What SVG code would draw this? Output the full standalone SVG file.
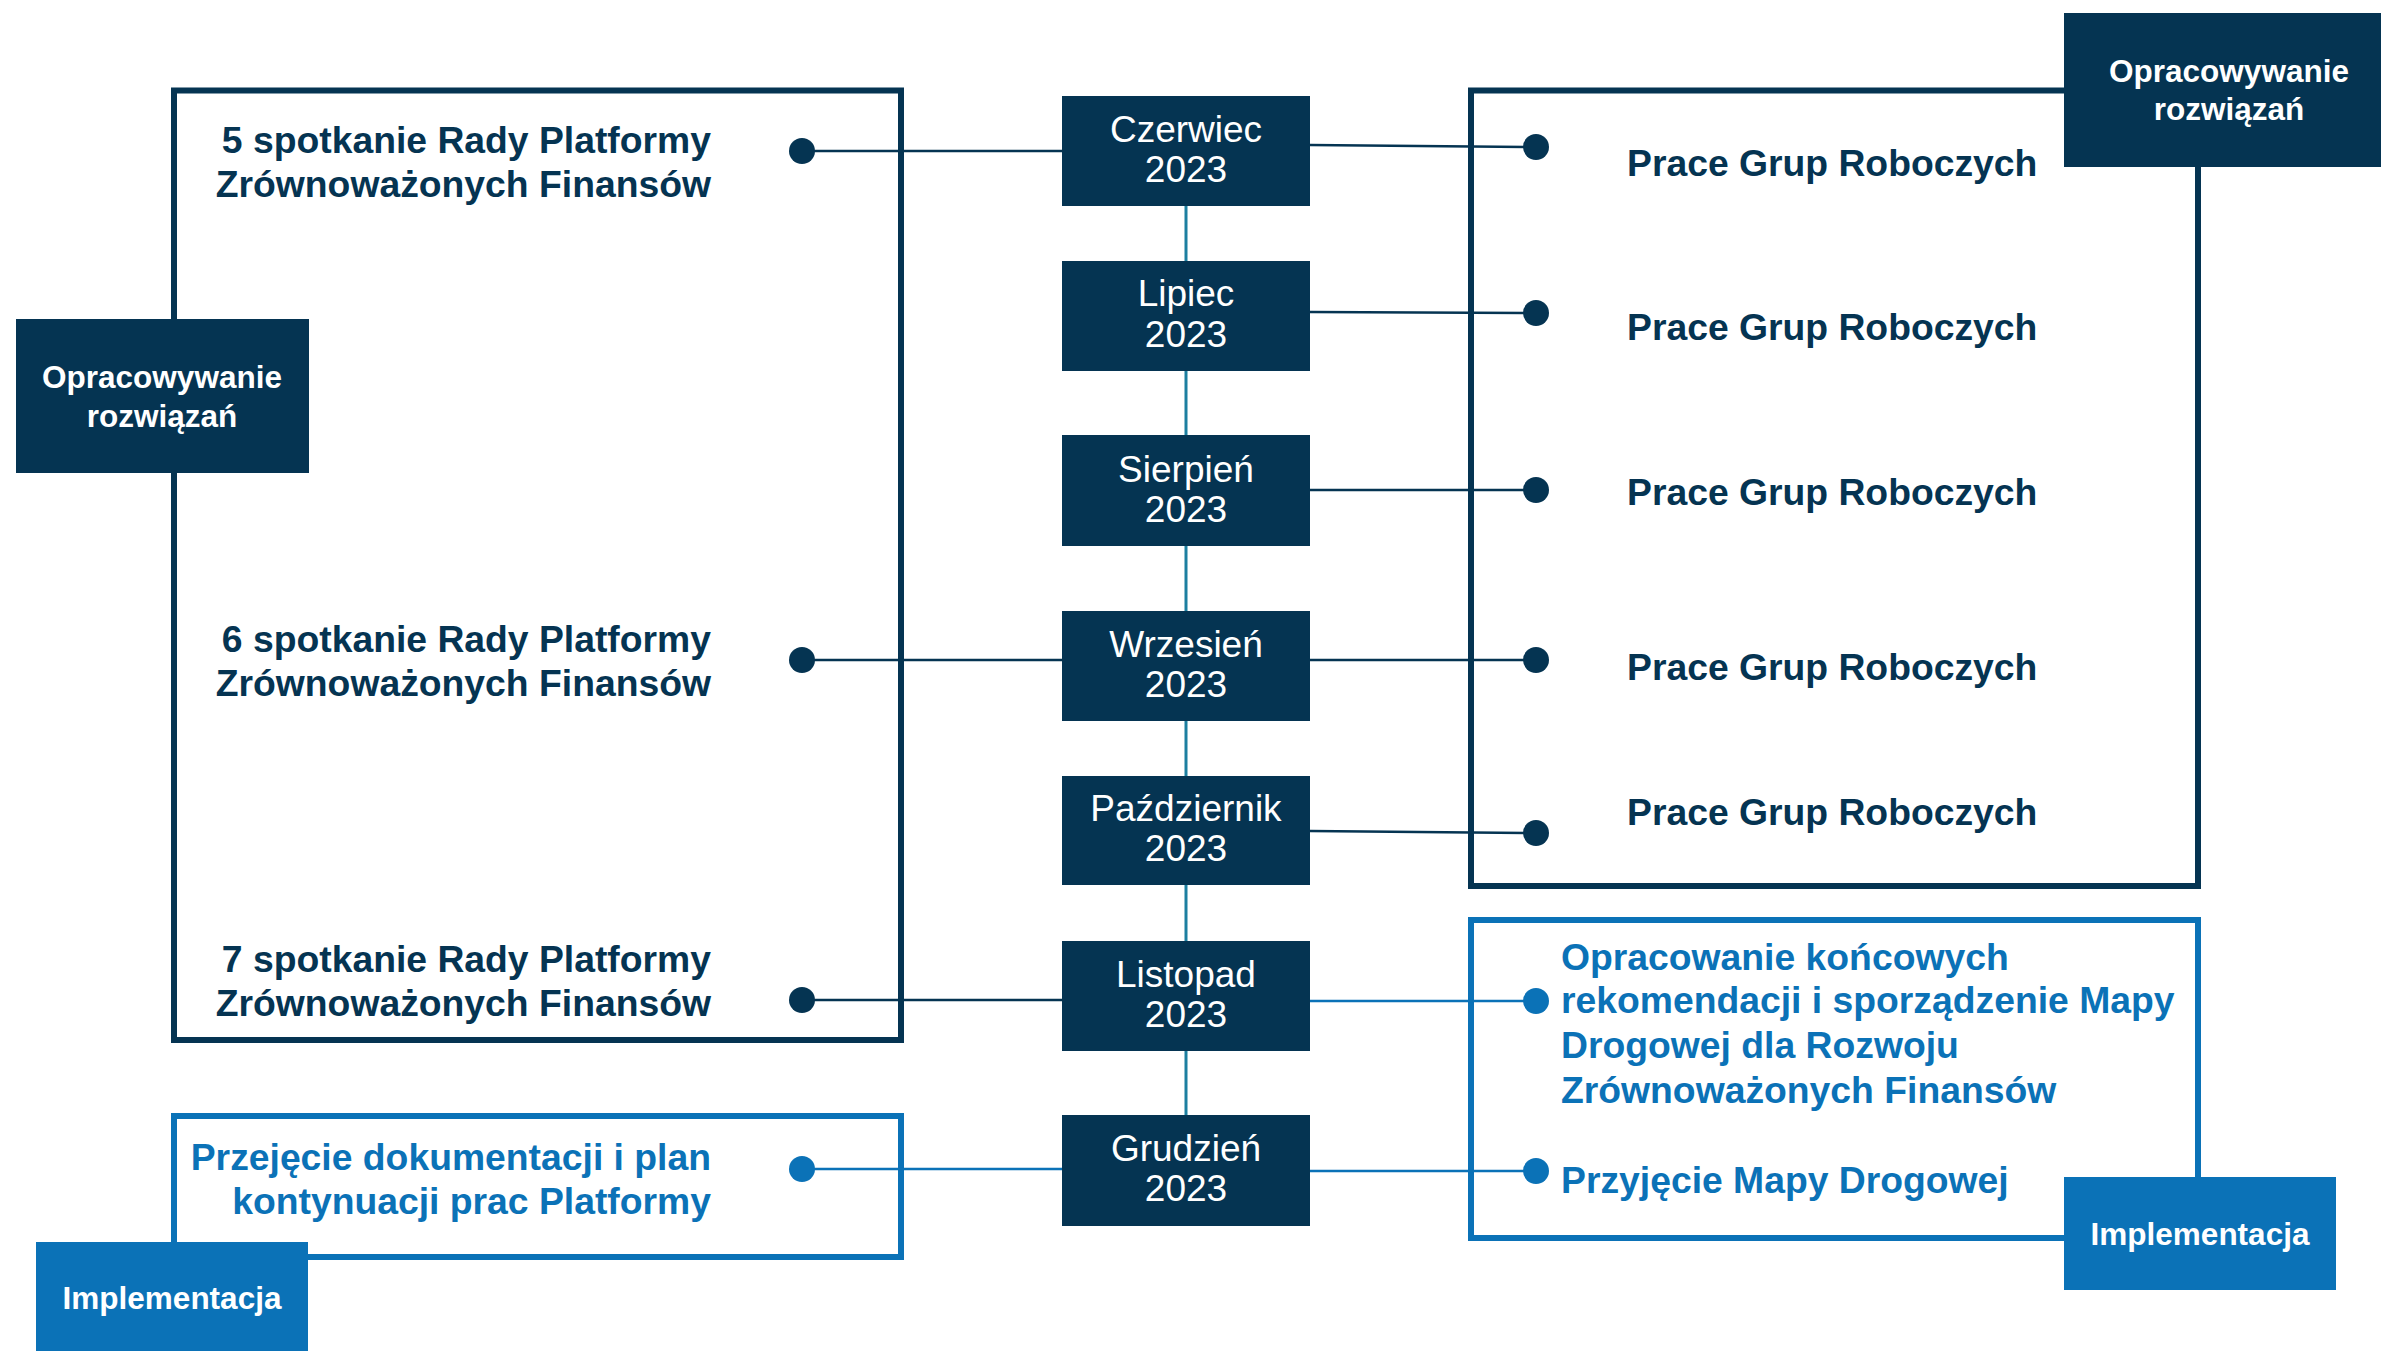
<svg xmlns="http://www.w3.org/2000/svg" width="2381" height="1351" viewBox="0 0 2381 1351">
<style>
  .frame-n { fill: none; stroke: #053452; stroke-width: 6; }
  .frame-b { fill: none; stroke: #0B72B7; stroke-width: 6; }
  .month { fill: #053452; }
  .label-n { fill: #053452; }
  .label-b { fill: #0B72B7; }
  .mtxt { font-family: "Liberation Sans", Arial, sans-serif; font-size: 37px; fill: #ffffff; text-anchor: middle; }
  .ltxt { font-family: "Liberation Sans", Arial, sans-serif; font-size: 31.5px; font-weight: bold; fill: #ffffff; text-anchor: middle; }
  .tn { font-family: "Liberation Sans", Arial, sans-serif; font-size: 37.3px; font-weight: bold; fill: #053452; }
  .tb { font-family: "Liberation Sans", Arial, sans-serif; font-size: 37.3px; font-weight: bold; fill: #0B72B7; }
  .r { text-anchor: end; }
  .cn { stroke: #053452; stroke-width: 2.5; fill: none; }
  .cb { stroke: #0B72B7; stroke-width: 2.5; fill: none; }
  .spine { stroke: #1C7FA0; stroke-width: 3; fill: none; }
  .dn { fill: #053452; }
  .db { fill: #0B72B7; }
</style>
<rect width="2381" height="1351" fill="#ffffff"/>

<g id="frames">
  <rect id="left-frame" class="frame-n" x="174" y="90.5" width="727" height="949.5"/>
  <rect id="right-frame" class="frame-n" x="1471" y="90.5" width="727" height="795.5"/>
  <rect id="left-impl-frame" class="frame-b" x="174" y="1116" width="727" height="141"/>
  <rect id="right-impl-frame" class="frame-b" x="1471" y="920" width="727" height="318"/>
</g>

<g id="connectors">
  <line class="spine" x1="1186" y1="150" x2="1186" y2="1170"/>
  <line class="cn" x1="802" y1="151" x2="1062" y2="151"/>
  <line class="cn" x1="802" y1="660" x2="1062" y2="660"/>
  <line class="cn" x1="802" y1="1000" x2="1062" y2="1000"/>
  <line class="cb" x1="802" y1="1169" x2="1062" y2="1169"/>
  <line class="cn" x1="1310" y1="145" x2="1536" y2="147"/>
  <line class="cn" x1="1310" y1="312" x2="1536" y2="313"/>
  <line class="cn" x1="1310" y1="490" x2="1536" y2="490"/>
  <line class="cn" x1="1310" y1="660" x2="1536" y2="660"/>
  <line class="cn" x1="1310" y1="831" x2="1536" y2="833"/>
  <line class="cb" x1="1310" y1="1001" x2="1536" y2="1001"/>
  <line class="cb" x1="1310" y1="1171" x2="1536" y2="1171"/>
  <circle class="dn" cx="802" cy="151" r="13"/>
  <circle class="dn" cx="802" cy="660" r="13"/>
  <circle class="dn" cx="802" cy="1000" r="13"/>
  <circle class="db" cx="802" cy="1169" r="13"/>
  <circle class="dn" cx="1536" cy="147" r="13"/>
  <circle class="dn" cx="1536" cy="313" r="13"/>
  <circle class="dn" cx="1536" cy="490" r="13"/>
  <circle class="dn" cx="1536" cy="660" r="13"/>
  <circle class="dn" cx="1536" cy="833" r="13"/>
  <circle class="db" cx="1536" cy="1001" r="13"/>
  <circle class="db" cx="1536" cy="1171" r="13"/>
</g>

<g id="label-left-top">
  <rect class="label-n" x="16" y="319" width="293" height="154"/>
  <text class="ltxt" x="162" y="388">Opracowywanie</text>
  <text class="ltxt" x="162" y="427">rozwiązań</text>
</g>
<g id="label-right-top">
  <rect class="label-n" x="2064" y="13" width="335" height="154"/>
  <text class="ltxt" x="2229" y="82">Opracowywanie</text>
  <text class="ltxt" x="2229" y="120">rozwiązań</text>
</g>
<g id="label-left-impl">
  <rect class="label-b" x="36" y="1242" width="272" height="113"/>
  <text class="ltxt" x="172" y="1309">Implementacja</text>
</g>
<g id="label-right-impl">
  <rect class="label-b" x="2064" y="1177" width="272" height="113"/>
  <text class="ltxt" x="2200" y="1245">Implementacja</text>
</g>

<g id="m-czerwiec"><rect class="month" x="1062" y="96" width="248" height="110"/><text class="mtxt" x="1186" y="142">Czerwiec</text><text class="mtxt" x="1186" y="182">2023</text></g>
<g id="m-lipiec"><rect class="month" x="1062" y="261" width="248" height="110"/><text class="mtxt" x="1186" y="306">Lipiec</text><text class="mtxt" x="1186" y="347">2023</text></g>
<g id="m-sierpien"><rect class="month" x="1062" y="435" width="248" height="111"/><text class="mtxt" x="1186" y="482">Sierpień</text><text class="mtxt" x="1186" y="522">2023</text></g>
<g id="m-wrzesien"><rect class="month" x="1062" y="611" width="248" height="110"/><text class="mtxt" x="1186" y="657">Wrzesień</text><text class="mtxt" x="1186" y="697">2023</text></g>
<g id="m-pazdziernik"><rect class="month" x="1062" y="776" width="248" height="109"/><text class="mtxt" x="1186" y="821">Październik</text><text class="mtxt" x="1186" y="861">2023</text></g>
<g id="m-listopad"><rect class="month" x="1062" y="941" width="248" height="110"/><text class="mtxt" x="1186" y="987">Listopad</text><text class="mtxt" x="1186" y="1027">2023</text></g>
<g id="m-grudzien"><rect class="month" x="1062" y="1115" width="248" height="111"/><text class="mtxt" x="1186" y="1161">Grudzień</text><text class="mtxt" x="1186" y="1201">2023</text></g>

<g id="t-spotkanie5"><text class="tn r" x="711" y="153">5 spotkanie Rady Platformy</text><text class="tn r" x="711" y="197">Zrównoważonych Finansów</text></g>
<g id="t-spotkanie6"><text class="tn r" x="711" y="652">6 spotkanie Rady Platformy</text><text class="tn r" x="711" y="696">Zrównoważonych Finansów</text></g>
<g id="t-spotkanie7"><text class="tn r" x="711" y="972">7 spotkanie Rady Platformy</text><text class="tn r" x="711" y="1016">Zrównoważonych Finansów</text></g>
<g id="t-przejecie"><text class="tb r" x="711" y="1170">Przejęcie dokumentacji i plan</text><text class="tb r" x="711" y="1214">kontynuacji prac Platformy</text></g>

<g id="t-prace1"><text class="tn" x="1627" y="176">Prace Grup Roboczych</text></g>
<g id="t-prace2"><text class="tn" x="1627" y="340">Prace Grup Roboczych</text></g>
<g id="t-prace3"><text class="tn" x="1627" y="505">Prace Grup Roboczych</text></g>
<g id="t-prace4"><text class="tn" x="1627" y="680">Prace Grup Roboczych</text></g>
<g id="t-prace5"><text class="tn" x="1627" y="825">Prace Grup Roboczych</text></g>

<g id="t-opracowanie">
  <text class="tb" x="1561" y="970">Opracowanie końcowych</text>
  <text class="tb" x="1561" y="1013">rekomendacji i sporządzenie Mapy</text>
  <text class="tb" x="1561" y="1058">Drogowej dla Rozwoju</text>
  <text class="tb" x="1561" y="1103">Zrównoważonych Finansów</text>
</g>
<g id="t-przyjecie"><text class="tb" x="1561" y="1193">Przyjęcie Mapy Drogowej</text></g>
</svg>
